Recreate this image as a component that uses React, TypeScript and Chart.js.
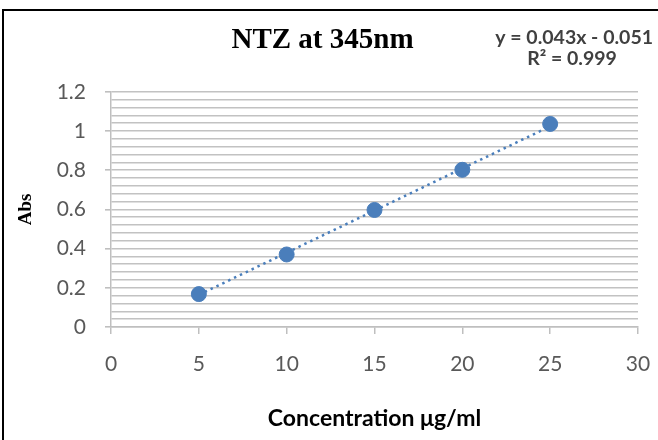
import React, { useEffect, useRef } from "react";
import { Chart, registerables } from "chart.js";

Chart.register(...registerables);

const concentrations = [5, 10, 15, 20, 25];
const absorbances = [0.168, 0.37, 0.597, 0.802, 1.036];
const trendX = [5, 25];
const trendY = [0.164, 1.024];
const equationLines = ["y = 0.043x - 0.051", "R² = 0.999"];
const titleText = "NTZ at 345nm";
const xTitle = "Concentration μg/ml";
const yTitle = "Abs";

const BLUE = "#4a7ebb";
const GRID = "#c2c2c2";
const AXIS = "#bfbfbf";

const isMajor = (v: number) => Math.abs(v / 0.2 - Math.round(v / 0.2)) < 1e-6;

const equationPlugin = {
  id: "equationText",
  afterDraw(chart: any) {
    const ctx = chart.ctx;
    ctx.save();
    ctx.fillStyle = "#404040";
    ctx.font = "bold 19.5px Lato";
    ctx.textBaseline = "middle";
    ctx.textAlign = "right";
    ctx.fillText(equationLines[0], 653, 38);
    ctx.textAlign = "center";
    ctx.fillText(equationLines[1], 572, 59);
    ctx.restore();
  },
};

export default function App() {
  const ref = useRef<HTMLCanvasElement>(null);
  useEffect(() => {
    if (!ref.current) return;
    const chart = new Chart(ref.current, {
      type: "scatter",
      data: {
        datasets: [
          {
            label: "Abs",
            data: concentrations.map((x, i) => ({ x, y: absorbances[i] })),
            backgroundColor: BLUE,
            borderColor: BLUE,
            pointRadius: 7.5,
            pointHoverRadius: 7.5,
            order: 1,
          },
          {
            type: "line",
            label: "Trend",
            data: trendX.map((x, i) => ({ x, y: trendY[i] })),
            borderColor: BLUE,
            borderWidth: 2.5,
            borderDash: [2.5, 4],
            pointRadius: 0,
            fill: false,
            order: 2,
          } as any,
        ],
      },
      options: {
        responsive: false,
        animation: false,
        layout: { padding: { left: 0, right: 13, top: 0, bottom: 0 } },
        plugins: {
          legend: { display: false },
          tooltip: { enabled: false },
          title: {
            display: true,
            text: titleText,
            color: "#000",
            font: { family: "Liberation Serif", size: 29, weight: "bold" },
            padding: { top: 23, bottom: 34 },
          },
        },
        scales: {
          x: {
            type: "linear",
            min: 0,
            max: 30,
            ticks: {
              stepSize: 5,
              color: "#595959",
              font: { family: "Lato", size: 21 },
              padding: 18,
            },
            grid: {
              drawOnChartArea: false,
              drawTicks: true,
              tickLength: 7,
              color: AXIS,
              lineWidth: 1.5,
            },
            border: { color: AXIS, width: 1.5 },
            title: {
              display: true,
              text: xTitle,
              color: "#000",
              font: { family: "Lato", size: 23, weight: "bold" },
              padding: { top: 0, bottom: 8 },
            },
            afterFit: (scale: any) => {
              scale.height = 113;
              scale.paddingLeft = 0;
              scale.paddingRight = 20;
            },
          },
          y: {
            type: "linear",
            min: 0,
            max: 1.2,
            ticks: {
              stepSize: 0.04,
              autoSkip: false,
              color: "#595959",
              font: { family: "Lato", size: 21 },
              padding: 19,
              callback: (v: any) => {
                const n = Number(v);
                return isMajor(n) ? String(Math.round(n * 10) / 10) : "";
              },
            },
            grid: {
              color: GRID,
              lineWidth: 1.6,
              tickLength: 6,
              tickColor: (ctx: any) =>
                ctx.tick && isMajor(ctx.tick.value) ? AXIS : "rgba(0,0,0,0)",
            },
            border: { color: AXIS, width: 1.5 },
            title: {
              display: true,
              text: yTitle,
              color: "#000",
              font: { family: "Liberation Serif", size: 19, weight: "bold" },
              padding: { top: 15, bottom: 0 },
            },
            afterFit: (scale: any) => {
              scale.width = 111;
            },
          },
        },
      },
      plugins: [equationPlugin],
    });
    return () => chart.destroy();
  }, []);

  return (
    <div style={{ position: "fixed", left: 0, top: 0, width: 658, height: 440, background: "#fff" }}>
      <canvas ref={ref} width={658} height={440} style={{ display: "block" }} />
      <div
        style={{
          position: "fixed",
          left: 2,
          top: 9,
          width: 720,
          height: 520,
          border: "2px solid #000",
          pointerEvents: "none",
        }}
      />
    </div>
  );
}
